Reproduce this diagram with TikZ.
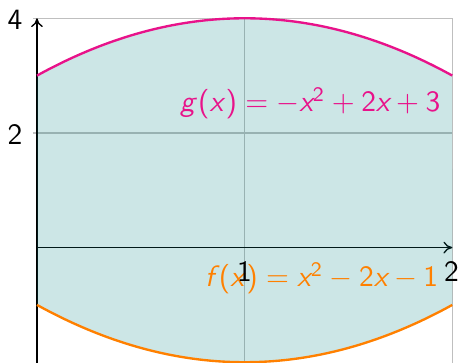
\documentclass[tikz,border=0pt]{standalone}
\usepackage{amsmath}
\usetikzlibrary{arrows.meta}
\definecolor{gpink}{RGB}{232,18,138}
\definecolor{forange}{RGB}{255,128,0}
\newcommand{\vi}[1]{\textit{#1}}
\newcommand{\vu}[1]{\textup{#1}}
\begin{document}
\begin{tikzpicture}[x=2.478cm,y=0.684cm,
  font=\sffamily,
  gridline/.style={draw=gray!50,line width=0.4pt},
  axisline/.style={draw=black,line width=0.45pt,-{To[length=3pt,width=4pt]}},
  curve/.style={line width=0.8pt},
  ticklabel/.style={inner sep=0pt,text=black}]
\useasboundingbox (-0.178,-2.010) rectangle (2.037,4.319);
% grid
\foreach \gx in {0,1,2} \draw[gridline] (\gx,-2.05) -- (\gx,4);
\foreach \gy in {2,4} \draw[gridline] (-0.02,\gy) -- (2,\gy);
% axes
\coordinate (xo) at (0,0);
\coordinate (xe) at (2,0);
\coordinate (yo) at (0,-2.05);
\coordinate (ye) at (0,4);
\draw[axisline] (xo) -- (xe);
\draw[axisline] (yo) -- (ye);
% region
\fill[teal,fill opacity=0.2] plot[domain=0:2,samples=60,smooth] (\x,{-\x*\x+2*\x+3})
  -- plot[domain=2:0,samples=60,smooth] (\x,{\x*\x-2*\x-1}) -- cycle;
% curves
\draw[curve,gpink] plot[domain=0:2,samples=60,smooth] (\x,{-\x*\x+2*\x+3});
\draw[curve,forange] plot[domain=0:2,samples=60,smooth] (\x,{\x*\x-2*\x-1});
% labels
\node[anchor=base east,text=gpink,inner sep=0pt] (gl) at (1.945,2.366)
  {$\vi{g}\mkern2mu\vu{(}\vi{x}\mkern1.5mu\vu{)}=-\vi{x}^{\vu{2}}+\vu{2}\vi{x}+\vu{3}$};
\node[anchor=base east,text=forange,inner sep=0pt] (fl) at (1.935,-0.685)
  {$\vi{f}\mkern3mu\vu{(}\vi{x}\mkern1.5mu\vu{)}=\vi{x}^{\vu{2}}-\vu{2}\vi{x}-\vu{1}$};
\node[ticklabel] (t4) at (-0.106,3.98) {4};
\node[ticklabel] (t2) at (-0.106,1.965) {2};
\node[ticklabel] (t1) at (0.999,-0.424) {1};
\node[ticklabel] (tx2) at (1.996,-0.424) {2};
\end{tikzpicture}
\end{document}
